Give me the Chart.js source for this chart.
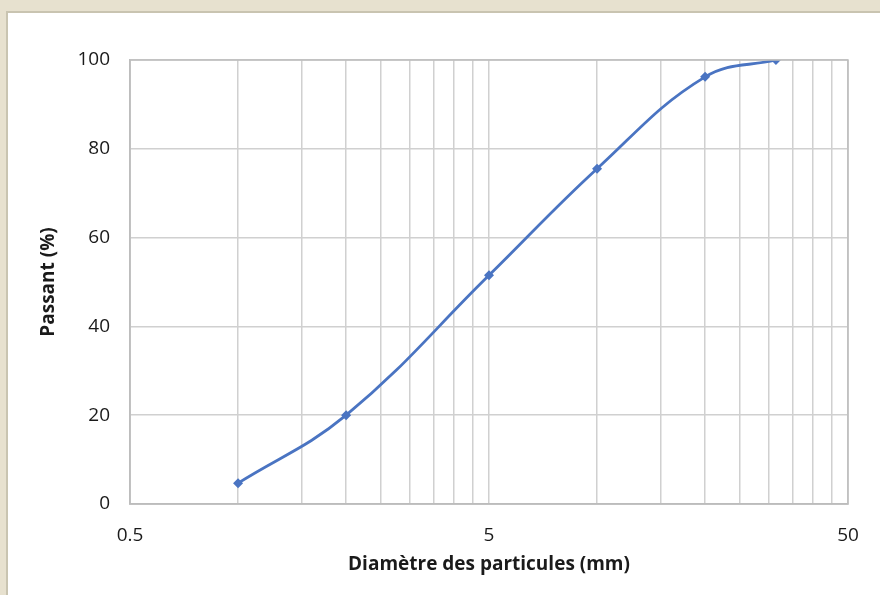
<!DOCTYPE html>
<html>
<head>
<meta charset="utf-8">
<script src="https://cdn.jsdelivr.net/npm/chart.js@4/dist/chart.umd.min.js"></script>
<style>
  html, body { margin: 0; padding: 0; background: #ffffff; }
  #wrap { position: relative; width: 880px; height: 595px; }
</style>
</head>
<body>
<div id="wrap"><canvas id="c" width="880" height="595"></canvas></div>
<script>
// Granulometric curve: sieve opening (mm) vs. cumulative passing (%)
const diameters = [1, 2, 5, 10, 20, 31.5];
const passing = [4.7, 20, 51.5, 75.5, 96.2, 100];
// Minor grid positions on the log axis and the labelled ones
const gridValues = [0.5, 1, 1.5, 2, 2.5, 3, 3.5, 4, 4.5, 5, 10, 15, 20, 25, 30, 35, 40, 45, 50];
const xLabels = [0.5, 5, 50];
const yTicks = [0, 20, 40, 60, 80, 100];

const FONT = "'Open Sans', 'Liberation Sans', sans-serif";

// Frame: beige surround with a white panel
const framePlugin = {
  id: 'frame',
  beforeDraw(chart) {
    const ctx = chart.ctx;
    ctx.save();
    ctx.fillStyle = '#e7e1cf';
    ctx.fillRect(0, 0, chart.width, chart.height);
    ctx.fillStyle = '#ffffff';
    ctx.fillRect(7, 12, chart.width - 7, chart.height - 12);
    ctx.strokeStyle = '#c9c4b1';
    ctx.lineWidth = 2;
    ctx.beginPath();
    ctx.moveTo(7, chart.height);
    ctx.lineTo(7, 12);
    ctx.lineTo(chart.width, 12);
    ctx.stroke();
    ctx.restore();
  }
};

new Chart(document.getElementById('c'), {
  type: 'line',
  data: {
    datasets: [{
      data: diameters.map((d, i) => ({ x: d, y: passing[i] })),
      borderColor: '#4a74c2',
      backgroundColor: '#4a74c2',
      borderWidth: 2.8,
      pointStyle: 'rectRot',
      pointRadius: 5,
      pointBorderWidth: 0,
      tension: 0.4,
      fill: false
    }]
  },
  options: {
    responsive: false,
    animation: false,
    layout: { padding: { left: 0, right: 32, top: 60, bottom: 0 } },
    plugins: { legend: { display: false }, tooltip: { enabled: false } },
    scales: {
      x: {
        type: 'logarithmic',
        min: 0.5,
        max: 50,
        afterBuildTicks(scale) {
          scale.ticks = gridValues.map(v => ({ value: v }));
        },
        afterFit(scale) { scale.height = 91; },
        grid: { color: '#d0d0d0', lineWidth: 1.5, drawTicks: false },
        border: { color: '#bdbdbd', width: 1.5 },
        ticks: {
          autoSkip: false,
          maxRotation: 0,
          padding: 20,
          color: '#1a1a1a',
          font: { family: FONT, size: 19 },
          callback(value) { return xLabels.includes(value) ? String(value) : ''; }
        },
        title: {
          display: true,
          text: 'Diamètre des particules (mm)',
          color: '#1a1a1a',
          font: { family: FONT, size: 19, weight: 'bold' },
          padding: { top: 0, bottom: 19 }
        }
      },
      y: {
        min: 0,
        max: 100,
        afterBuildTicks(scale) {
          scale.ticks = yTicks.map(v => ({ value: v }));
        },
        afterFit(scale) { scale.width = 130; },
        grid: { color: '#d0d0d0', lineWidth: 1.5, drawTicks: false },
        border: { color: '#bdbdbd', width: 1.5 },
        ticks: {
          padding: 20,
          color: '#1a1a1a',
          font: { family: FONT, size: 19 }
        },
        title: {
          display: true,
          text: 'Passant (%)',
          color: '#1a1a1a',
          font: { family: FONT, size: 19, weight: 'bold' },
          padding: { top: 37, bottom: 0 }
        }
      }
    }
  },
  plugins: [framePlugin, {
    id: 'plotBorder',
    afterDatasetsDraw(chart) {
      const a = chart.chartArea, ctx = chart.ctx;
      ctx.save();
      ctx.strokeStyle = '#bdbdbd';
      ctx.lineWidth = 1.5;
      ctx.strokeRect(a.left, a.top, a.right - a.left, a.bottom - a.top);
      ctx.restore();
    }
  }]
});
</script>
</body>
</html>
